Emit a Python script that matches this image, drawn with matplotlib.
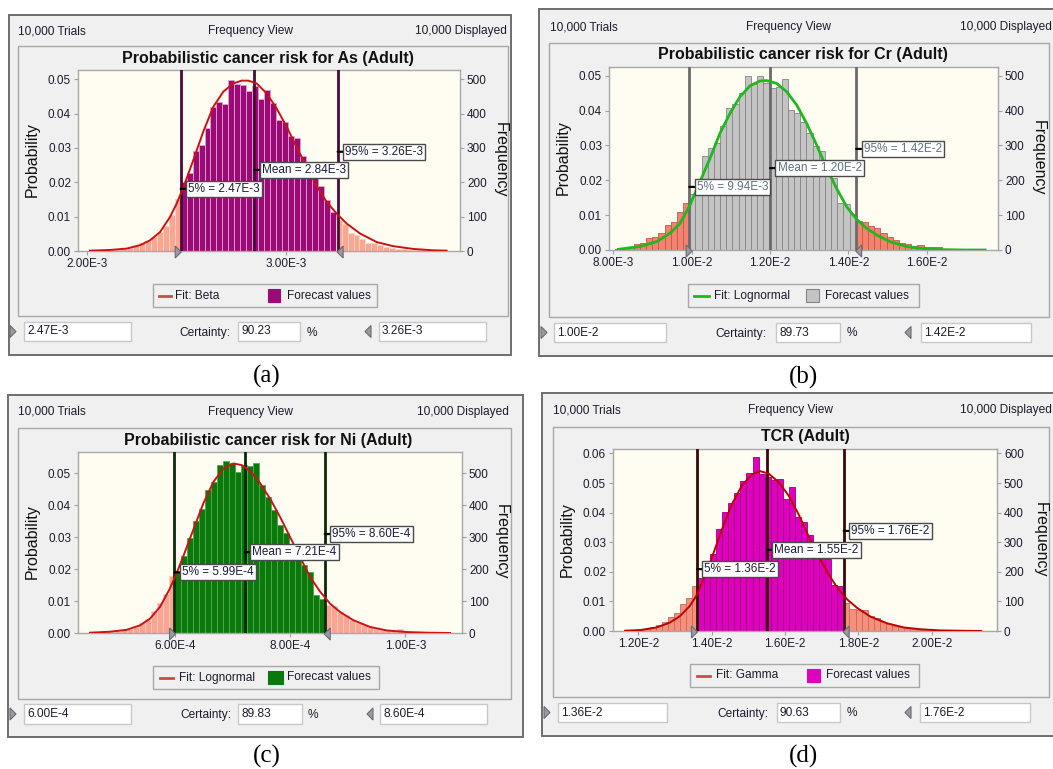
import matplotlib
matplotlib.use("Agg")
import matplotlib.pyplot as plt
from matplotlib.patches import Rectangle
import matplotlib.transforms as mtransforms
import numpy as np

# ---------------- DATA ----------------
# Panel (a) As
a_title = "Probabilistic cancer risk for As (Adult)"
a_fit_name = "Fit: Beta"
a_bin_start = 2.02e-3
a_bin_width = 0.03e-3
a_heights = [0.0002, 0.0002, 0.0002, 0.0002, 0.0004, 0.0006, 0.0008, 0.0014, 0.0024, 0.0030,
             0.0040, 0.0055, 0.0072, 0.0105, 0.0150,
             0.0200, 0.0228, 0.0290, 0.0310, 0.0357, 0.0418, 0.0435, 0.0428, 0.0498, 0.0486,
             0.0483, 0.0467, 0.0479, 0.0442, 0.0469, 0.0430, 0.0381, 0.0376, 0.0335, 0.0328,
             0.0276, 0.0247, 0.0216, 0.0189, 0.0148, 0.0114,
             0.0091, 0.0080, 0.0052, 0.0046, 0.0036, 0.0024, 0.0023, 0.0018, 0.0012, 0.0010,
             0.0007, 0.0006, 0.0004, 0.0003, 0.0002, 0.0002, 0.0001, 0.0002, 0.0001]
a_fit_x = [2.0134, 2.1141, 2.198, 2.265, 2.3154, 2.3658, 2.4161, 2.4497, 2.4832, 2.5336, 2.5839,
           2.6342, 2.6846, 2.7349, 2.7768, 2.8104, 2.8523, 2.9027, 2.953, 3.0034, 3.0537, 3.104,
           3.1544, 3.2047, 3.255, 3.3054, 3.3725, 3.4564, 3.5403, 3.641, 3.7416, 3.8087]  # x 1e-3
a_fit_y = [0.0001, 0.0003, 0.0007, 0.0017, 0.0031, 0.0055, 0.0099, 0.0138, 0.0185, 0.0265, 0.0348,
           0.0420, 0.0464, 0.0488, 0.0496, 0.0496, 0.0488, 0.0459, 0.0415, 0.0362, 0.0302, 0.0246,
           0.0189, 0.0143, 0.0109, 0.0080, 0.0051, 0.0026, 0.0014, 0.0006, 0.0002, 0.0001]
a_stats = [2.47e-3, 2.84e-3, 3.26e-3]
a_stat_labels = ["5% = 2.47E-3", "Mean = 2.84E-3", "95% = 3.26E-3"]
a_bounds = [2.47e-3, 3.26e-3]
a_bound_labels = ["2.47E-3", "3.26E-3"]
a_certainty = "90.23"
a_xticks = [2.0e-3, 3.0e-3]
a_xticklabels = ["2.00E-3", "3.00E-3"]

# Panel (b) Cr
b_title = "Probabilistic cancer risk for Cr (Adult)"
b_fit_name = "Fit: Lognormal"
b_bin_start = 8.051e-3
b_bin_width = 0.1574e-3
b_heights = [0.0003, 0.0005, 0.0008, 0.0017, 0.0021, 0.0033, 0.0038, 0.0050, 0.0072, 0.0081,
             0.0110, 0.0136,
             0.0160, 0.0190, 0.0270, 0.0294, 0.0306, 0.0356, 0.0406, 0.0420, 0.0450, 0.0500,
             0.0476, 0.0500, 0.0480, 0.0464, 0.0468, 0.0492, 0.0402, 0.0392, 0.0368, 0.0337,
             0.0298, 0.0285, 0.0239, 0.0206, 0.0134, 0.0132, 0.0103,
             0.0084, 0.0080, 0.0070, 0.0062, 0.0048, 0.0036, 0.0029, 0.0021, 0.0017, 0.0011,
             0.0014, 0.0010, 0.0008, 0.0008, 0.0003, 0.0002, 0.0001, 0.0001, 0.0002, 0.0002, 0.0002]
b_fit_x = [8.1277, 8.6809, 9.1064, 9.4468, 9.7021, 9.9574, 10.2128, 10.4681, 10.7234, 10.9787,
           11.234, 11.4894, 11.7447, 11.9149, 12.1702, 12.4255, 12.6809, 12.9362, 13.1915, 13.4468,
           13.7021, 13.9574, 14.2128, 14.4681, 14.7234, 15.0638, 15.4894, 15.9149, 16.4255,
           16.9362, 17.4894]  # x 1e-3
b_fit_y = [0.0002, 0.0010, 0.0024, 0.0048, 0.0076, 0.0129, 0.0196, 0.0263, 0.0335, 0.0392,
           0.0440, 0.0471, 0.0485, 0.0486, 0.0478, 0.0454, 0.0416, 0.0363, 0.0301, 0.0234,
           0.0176, 0.0124, 0.0088, 0.0062, 0.0043, 0.0024, 0.0010, 0.0004, 0.0001, 0.0, 0.0]
b_stats = [9.94e-3, 1.20e-2, 1.42e-2]
b_stat_labels = ["5% = 9.94E-3", "Mean = 1.20E-2", "95% = 1.42E-2"]
b_bounds = [1.00e-2, 1.42e-2]
b_bound_labels = ["1.00E-2", "1.42E-2"]
b_certainty = "89.73"
b_xticks = [8.0e-3, 1.0e-2, 1.2e-2, 1.4e-2, 1.6e-2]
b_xticklabels = ["8.00E-3", "1.00E-2", "1.20E-2", "1.40E-2", "1.60E-2"]

# Panel (c) Ni
c_title = "Probabilistic cancer risk for Ni (Adult)"
c_fit_name = "Fit: Lognormal"
c_bin_start = 4.5355e-4
c_bin_width = 0.1044e-4
c_heights = [0.0001, 0.0002, 0.0002, 0.0003, 0.0005, 0.0008, 0.0014, 0.0019, 0.0031, 0.0045,
             0.0069, 0.0094, 0.0123, 0.0180,
             0.0190, 0.0240, 0.0298, 0.0350, 0.0390, 0.0448, 0.0474, 0.0526, 0.0540, 0.0533,
             0.0505, 0.0526, 0.0523, 0.0533, 0.0463, 0.0427, 0.0385, 0.0338, 0.0312, 0.0265,
             0.0236, 0.0212, 0.0191, 0.0118, 0.0108,
             0.0087, 0.0085, 0.0066, 0.0055, 0.0040, 0.0031, 0.0024, 0.0019, 0.0014, 0.0010,
             0.0008, 0.0006, 0.0012, 0.0004, 0.0003, 0.0003, 0.0002, 0.0002, 0.0001, 0.0001, 0.0001]
c_fit_x = [4.5239, 4.8712, 5.1606, 5.3922, 5.5658, 5.7395, 5.9132, 6.0289, 6.1447, 6.3184, 6.492,
           6.6657, 6.8394, 7.013, 7.1577, 7.3025, 7.4761, 7.6498, 7.8234, 7.9971, 8.1708, 8.3444,
           8.5181, 8.6918, 8.8654, 9.097, 9.3864, 9.6758, 10.0232, 10.3705, 10.7757]  # x 1e-4
c_fit_y = [0.0001, 0.0004, 0.0010, 0.0024, 0.0045, 0.0082, 0.0140, 0.0188, 0.0241, 0.0324, 0.0406,
           0.0473, 0.0515, 0.0531, 0.0526, 0.0508, 0.0470, 0.0421, 0.0364, 0.0301, 0.0238, 0.0176,
           0.0130, 0.0092, 0.0066, 0.0040, 0.0019, 0.0008, 0.0003, 0.0001, 0.0]
c_stats = [5.99e-4, 7.21e-4, 8.60e-4]
c_stat_labels = ["5% = 5.99E-4", "Mean = 7.21E-4", "95% = 8.60E-4"]
c_bounds = [6.00e-4, 8.60e-4]
c_bound_labels = ["6.00E-4", "8.60E-4"]
c_certainty = "89.83"
c_xticks = [6.0e-4, 8.0e-4, 1.0e-3]
c_xticklabels = ["6.00E-4", "8.00E-4", "1.00E-3"]

# Panel (d) TCR
d_title = "TCR (Adult)"
d_fit_name = "Fit: Gamma"
d_bin_start = 11.645e-3
d_bin_width = 0.1652e-3
d_heights = [0.0002, 0.0003, 0.0006, 0.0008, 0.0015, 0.0020, 0.0032, 0.0048, 0.0062, 0.0091,
             0.0110, 0.0152,
             0.0180, 0.0220, 0.0260, 0.0343, 0.0403, 0.0431, 0.0465, 0.0508, 0.0533, 0.0587,
             0.0530, 0.0521, 0.0510, 0.0512, 0.0445, 0.0485, 0.0384, 0.0369, 0.0324, 0.0279,
             0.0262, 0.0242, 0.0155, 0.0152,
             0.0095, 0.0076, 0.0072, 0.0071, 0.0052, 0.0045, 0.0032, 0.0025, 0.0018, 0.0013,
             0.0010, 0.0007, 0.0005, 0.0004, 0.0003, 0.0002, 0.0002, 0.0002, 0.0002, 0.0001,
             0.0001, 0.0001]
d_fit_x = [11.6404, 12.0449, 12.4944, 12.8539, 13.1236, 13.3933, 13.573, 13.7528, 13.9326,
           14.1124, 14.2921, 14.5618, 14.8315, 15.1011, 15.3258, 15.5506, 15.8202, 16.0899,
           16.3596, 16.6292, 16.8989, 17.1685, 17.4382, 17.7079, 17.9775, 18.3371, 18.7865,
           19.236, 19.6854, 20.2247, 20.764, 21.3483]  # x 1e-3
d_fit_y = [0.0001, 0.0003, 0.0012, 0.0028, 0.0049, 0.0083, 0.0117, 0.0167, 0.0223, 0.0285,
           0.0347, 0.0431, 0.0493, 0.0529, 0.0540, 0.0532, 0.0504, 0.0459, 0.0397, 0.0324,
           0.0257, 0.0195, 0.0144, 0.0105, 0.0077, 0.0048, 0.0026, 0.0012, 0.0006, 0.0002,
           0.0001, 0.0]
d_stats = [1.36e-2, 1.55e-2, 1.76e-2]
d_stat_labels = ["5% = 1.36E-2", "Mean = 1.55E-2", "95% = 1.76E-2"]
d_bounds = [1.36e-2, 1.76e-2]
d_bound_labels = ["1.36E-2", "1.76E-2"]
d_certainty = "90.63"
d_xticks = [1.2e-2, 1.4e-2, 1.6e-2, 1.8e-2, 2.0e-2]
d_xticklabels = ["1.20E-2", "1.40E-2", "1.60E-2", "1.80E-2", "2.00E-2"]

prob_ticks_5 = [0.0, 0.01, 0.02, 0.03, 0.04, 0.05]
prob_labels_5 = ["0.00", "0.01", "0.02", "0.03", "0.04", "0.05"]
freq_labels_5 = ["0", "100", "200", "300", "400", "500"]
prob_ticks_6 = [0.0, 0.01, 0.02, 0.03, 0.04, 0.05, 0.06]
prob_labels_6 = ["0.00", "0.01", "0.02", "0.03", "0.04", "0.05", "0.06"]
freq_labels_6 = ["0", "100", "200", "300", "400", "500", "600"]
trials = 10000
captions = ["(a)", "(b)", "(c)", "(d)"]

# ---------------- FIGURE ----------------
W, H = 1053, 769
fig = plt.figure(figsize=(W / 100, H / 100), dpi=100)
fig.patch.set_facecolor("white")
UI = "Liberation Sans"
TXT = "#1c1c2c"


def fx(x):
    return x / W


def fy(y):
    return 1 - y / H


def rect(x0, y0, x1, y1, fc, ec, lw=1.0, z=-10):
    r = Rectangle((fx(x0), fy(y1)), fx(x1) - fx(x0), fy(y0) - fy(y1),
                  transform=fig.transFigure, facecolor=fc, edgecolor=ec,
                  linewidth=lw, zorder=z)
    fig.add_artist(r)


def text(x, y, s, **kw):
    kw.setdefault("family", UI)
    kw.setdefault("color", TXT)
    return fig.text(fx(x), fy(y), s, **kw)


def tri(x, y, direction, z=5):
    if direction == "right":
        pts = [(x - 5, y - 6), (x + 1, y), (x - 5, y + 6)]
    else:
        pts = [(x + 5, y - 6), (x - 1, y), (x + 5, y + 6)]
    from matplotlib.patches import Polygon
    p = Polygon([(fx(px), fy(py)) for px, py in pts], closed=True, transform=fig.transFigure,
                facecolor="#9a9aa0", edgecolor="#6a6a70", lw=0.8, zorder=z)
    fig.add_artist(p)


panels = [
    dict(title=a_title, fit_name=a_fit_name, bin_start=a_bin_start, bin_width=a_bin_width,
         heights=a_heights, fit_x=np.array(a_fit_x) * 1e-3, fit_y=a_fit_y, stats=a_stats,
         stat_labels=a_stat_labels, bounds=a_bounds, bound_labels=a_bound_labels,
         certainty=a_certainty, xticks=a_xticks, xticklabels=a_xticklabels,
         yt=prob_ticks_5, yl=prob_labels_5, fl=freq_labels_5,
         xlim=(1.953e-3, 3.876e-3), ylim=0.0527, ann_y=[0.0181, 0.0236, 0.0289],
         c_in="#9c0a78", e_in="#d9a6cc", c_out="#f8a891", e_out="#fdd3c6",
         c_line="#4a0a3a", c_fit="#cc1111", fit_lw=1.4, leg_line="#d04848", ann_col="#1c1c3c",
         frame=(9, 15, 511, 355), inner=(18, 46, 508, 316), axes=(78, 70, 460, 251),
         hdr=(31, 18, 250, 507), title_xy=(268, 58), prob_xy=(32, 160), freq_xy=(500, 160),
         legend=(153, 284, 377, 307), lline=(159, 171), ltext1=175, lsq=(268, 280), ltext2=287,
         tri_r=13, f1=(24, 322, 131, 341), cert_r=230, f2=(238, 322, 300, 341), pct=312,
         tri_l=368, f3=(379, 322, 486, 341), cap=(267, 376)),
    dict(title=b_title, fit_name=b_fit_name, bin_start=b_bin_start, bin_width=b_bin_width,
         heights=b_heights, fit_x=np.array(b_fit_x) * 1e-3, fit_y=b_fit_y, stats=b_stats,
         stat_labels=b_stat_labels, bounds=b_bounds, bound_labels=b_bound_labels,
         certainty=b_certainty, xticks=b_xticks, xticklabels=b_xticklabels,
         yt=prob_ticks_5, yl=prob_labels_5, fl=freq_labels_5,
         xlim=(7.89e-3, 17.82e-3), ylim=0.0525, ann_y=[0.0181, 0.0235, 0.0290],
         c_in="#c4c4c4", e_in="#858585", c_out="#f3826e", e_out="#c05a4a",
         c_line="#6b6b6b", c_fit="#1fb81f", fit_lw=2.0, leg_line="#1fb81f", ann_col="#5f7285",
         frame=(539, 9, 1062, 356), inner=(549, 43, 1049, 317), axes=(609, 67, 998, 250),
         hdr=(27, 550, 789, 1052), title_xy=(803, 54), prob_xy=(563, 158), freq_xy=(1038, 158),
         legend=(688, 284, 919, 307), lline=(694, 709), ltext1=714, lsq=(806, 819), ltext2=825,
         tri_r=544, f1=(554, 323, 666, 342), cert_r=766, f2=(776, 323, 840, 342), pct=852,
         tri_l=908, f3=(921, 323, 1031, 342), cap=(803, 377)),
    dict(title=c_title, fit_name=c_fit_name, bin_start=c_bin_start, bin_width=c_bin_width,
         heights=c_heights, fit_x=np.array(c_fit_x) * 1e-4, fit_y=c_fit_y, stats=c_stats,
         stat_labels=c_stat_labels, bounds=c_bounds, bound_labels=c_bound_labels,
         certainty=c_certainty, xticks=c_xticks, xticklabels=c_xticklabels,
         yt=prob_ticks_5, yl=prob_labels_5, fl=freq_labels_5,
         xlim=(4.315e-4, 10.984e-4), ylim=0.0567, ann_y=[0.0190, 0.0253, 0.0310],
         c_in="#0a780a", e_in="#52a852", c_out="#f9a593", e_out="#fcccbf",
         c_line="#0a2a0a", c_fit="#c81414", fit_lw=1.4, leg_line="#d04848", ann_col="#1c1c3c",
         frame=(8, 395, 523, 737), inner=(18, 428, 511, 699), axes=(78, 452, 462, 633),
         hdr=(412, 18, 251, 509), title_xy=(268, 440), prob_xy=(32, 542), freq_xy=(501, 542),
         legend=(153, 666, 379, 689), lline=(160, 173), ltext1=179, lsq=(268, 283), ltext2=287,
         tri_r=13, f1=(24, 704, 131, 724), cert_r=231, f2=(238, 704, 302, 724), pct=313,
         tri_l=370, f3=(380, 704, 487, 724), cap=(267, 756)),
    dict(title=d_title, fit_name=d_fit_name, bin_start=d_bin_start, bin_width=d_bin_width,
         heights=d_heights, fit_x=np.array(d_fit_x) * 1e-3, fit_y=d_fit_y, stats=d_stats,
         stat_labels=d_stat_labels, bounds=d_bounds, bound_labels=d_bound_labels,
         certainty=d_certainty, xticks=d_xticks, xticklabels=d_xticklabels,
         yt=prob_ticks_6, yl=prob_labels_6, fl=freq_labels_6,
         xlim=(11.31e-3, 21.78e-3), ylim=0.0615, ann_y=[0.0209, 0.0274, 0.0338],
         c_in="#de00bc", e_in="#9a0080", c_out="#f4907c", e_out="#c86a5a",
         c_line="#3a0808", c_fit="#c00000", fit_lw=1.4, leg_line="#d04848", ann_col="#1c1c3c",
         frame=(542, 393, 1062, 736), inner=(553, 427, 1049, 697), axes=(613, 449, 997, 631),
         hdr=(410, 553, 790, 1052), title_xy=(805, 437), prob_xy=(567, 540), freq_xy=(1040, 540),
         legend=(690, 664, 919, 687), lline=(697, 710), ltext1=716, lsq=(807, 820), ltext2=826,
         tri_r=547, f1=(558, 703, 667, 722), cert_r=768, f2=(777, 703, 840, 722), pct=852,
         tri_l=908, f3=(920, 703, 1030, 722), cap=(803, 756)),
]

FS = 8.6
for i, p in enumerate(panels):
    # frames
    rect(*p["frame"], fc="#f0f0f0", ec="#6e6e6e", lw=1.4, z=-10)
    rect(*p["inner"], fc="#f0f0f0", ec="#a8a8a8", lw=1.0, z=-9)
    hy, hl, hc, hr = p["hdr"]
    text(hl, hy, f"{trials:,} Trials", fontsize=FS, ha="left", va="center")
    text(hc, hy, "Frequency View", fontsize=FS, ha="center", va="center")
    text(hr, hy, f"{trials:,} Displayed", fontsize=FS, ha="right", va="center")
    text(*p["title_xy"], p["title"], fontsize=11.5, weight="bold", ha="center", va="center",
         color="#111111")
    text(*p["prob_xy"], "Probability", fontsize=11.5, rotation=90, ha="center", va="center",
         color="#111111")
    text(*p["freq_xy"], "Frequency", fontsize=11.5, rotation=270, ha="center", va="center",
         color="#111111")

    l, t, r, b = p["axes"]
    ax = fig.add_axes([fx(l), fy(b), fx(r) - fx(l), fy(t) - fy(b)])
    ax.set_facecolor("#fffdf2")
    n = len(p["heights"])
    edges = p["bin_start"] + p["bin_width"] * np.arange(n)
    centers = edges + p["bin_width"] / 2
    lo, hi = p["bounds"]
    inside = [(c >= lo) and (c <= hi) for c in centers]
    ax.bar(edges, p["heights"], width=p["bin_width"], align="edge",
           color=[p["c_in"] if s else p["c_out"] for s in inside],
           edgecolor=[p["e_in"] if s else p["e_out"] for s in inside],
           linewidth=0.6, zorder=2)
    for val, yv, lab in zip(p["stats"], p["ann_y"], p["stat_labels"]):
        ax.axvline(val, color=p["c_line"], lw=2.0, zorder=3)
    ax.plot(p["fit_x"], p["fit_y"], color=p["c_fit"], lw=p["fit_lw"], zorder=4,
            solid_joinstyle="round")
    for val, yv, lab in zip(p["stats"], p["ann_y"], p["stat_labels"]):
        tr = ax.transData + mtransforms.ScaledTranslation(7.5 / 100, 0, fig.dpi_scale_trans)
        ax.text(val, yv, lab, transform=tr, ha="left", va="center", fontsize=8.5,
                family=UI, color=p["ann_col"], zorder=8,
                bbox=dict(boxstyle="square,pad=0.18", fc="white", ec="#4a4a4a", lw=1.0))
        ax.annotate("", xy=(val, yv), xytext=(5, 0), textcoords="offset pixels",
                    arrowprops=dict(arrowstyle="-", color="black", lw=1.6,
                                    shrinkA=0, shrinkB=0), zorder=7)
    ax.set_xlim(*p["xlim"])
    ax.set_ylim(0, p["ylim"])
    ax.set_xticks(p["xticks"])
    ax.set_xticklabels(p["xticklabels"], family=UI, fontsize=8.5, color=TXT)
    ax.set_yticks(p["yt"])
    ax.set_yticklabels(p["yl"], family=UI, fontsize=8.5, color=TXT)
    ax.tick_params(axis="both", length=3, color="#a0a0a0", pad=2)
    for s in ax.spines.values():
        s.set_color("#a8a8a8")
        s.set_linewidth(1.0)
    ax2 = ax.twinx()
    ax2.set_ylim(0, p["ylim"] * trials)
    ax2.set_yticks([v * trials for v in p["yt"]])
    ax2.set_yticklabels(p["fl"], family=UI, fontsize=8.5, color=TXT)
    ax2.tick_params(axis="y", length=3, color="#a0a0a0", pad=2)
    for s in ax2.spines.values():
        s.set_visible(False)

    # triangles at certainty bounds on x axis
    for bv, d in zip(p["bounds"], ["right", "left"]):
        xp, _ = ax.transData.transform((bv, 0))
        xpx = xp
        ypx = b + 1
        tri(xpx + (-0.5 if d == "right" else 0.5), ypx, d, z=6)

    # legend
    L0, L1, L2, L3 = p["legend"]
    rect(L0, L1, L2, L3, fc="#f0f0f0", ec="#a8a8a8", lw=1.0, z=-8)
    ly = (L1 + L3) / 2
    fig.add_artist(plt.Line2D([fx(p["lline"][0]), fx(p["lline"][1])], [fy(ly), fy(ly)],
                              transform=fig.transFigure, color=p["leg_line"], lw=2))
    text(p["ltext1"], ly, p["fit_name"], fontsize=FS, ha="left", va="center")
    s0, s1 = p["lsq"]
    rect(s0, ly - 6.5, s1, ly + 6.5, fc=p["c_in"], ec=p["e_in"] if i == 1 else p["c_in"],
         lw=0.8, z=-7)
    text(p["ltext2"], ly, "Forecast values", fontsize=FS, ha="left", va="center")

    # certainty row
    f1, f2, f3 = p["f1"], p["f2"], p["f3"]
    rowy = (f1[1] + f1[3]) / 2
    for f in (f1, f2, f3):
        rect(*f, fc="white", ec="#c8c8c8", lw=1.0, z=-7)
    tri(p["tri_r"] + 2, rowy, "right")
    tri(p["tri_l"] - 2, rowy, "left")
    text(f1[0] + 3, rowy, p["bound_labels"][0], fontsize=FS, ha="left", va="center")
    text(p["cert_r"], rowy + 1, "Certainty:", fontsize=FS, ha="right", va="center")
    text(f2[0] + 3, rowy, p["certainty"], fontsize=FS, ha="left", va="center")
    text(p["pct"], rowy + 1, "%", fontsize=FS, ha="center", va="center")
    text(f3[0] + 3, rowy, p["bound_labels"][1], fontsize=FS, ha="left", va="center")

    text(*p["cap"], captions[i], fontsize=18, family="Liberation Serif", ha="center",
         va="center", color="black")

fig.savefig("out.png", dpi=100, facecolor="white")
